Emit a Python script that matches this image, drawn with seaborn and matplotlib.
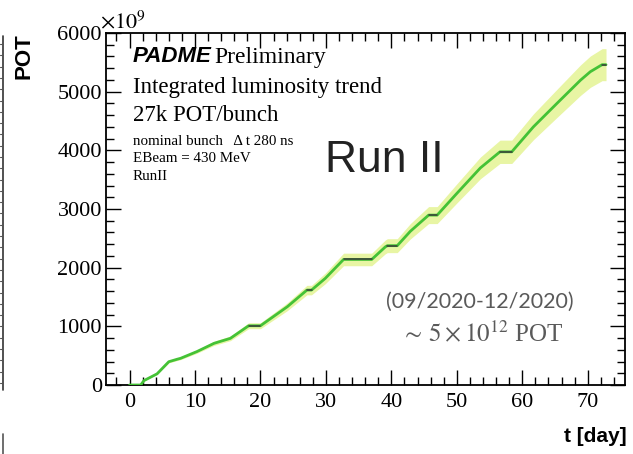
import numpy as np
import pandas as pd
import matplotlib
matplotlib.use("Agg")
import matplotlib.pyplot as plt
from matplotlib.lines import Line2D
from matplotlib.ticker import MultipleLocator
import seaborn as sns

# Integrated protons on target (units of 1e9) versus run time in days
days = [0, 1.7, 2.2, 4.2, 6.0, 7.3, 7.8, 10.3, 12.9, 15.4, 18.2, 20.0, 24.1,
        27.1, 27.8, 29.9, 32.7, 37.0, 39.1, 39.4, 40.9, 42.9, 45.7, 47.0,
        50.0, 53.6, 56.6, 58.4, 61.7, 65.3, 68.9, 70.4, 72.2, 72.8]
pot = [0, 0, 75, 190, 397, 440, 455, 570, 710, 795, 1010, 1010, 1334,
       1618, 1618, 1817, 2140, 2140, 2356, 2375, 2375, 2620, 2896, 2896,
       3265, 3700, 3975, 3975, 4400, 4800, 5196, 5340, 5460, 5460]
rel_err = 0.05

x_ticks = [0, 10, 20, 30, 40, 50, 60, 70]
y_ticks = [0, 1000, 2000, 3000, 4000, 5000, 6000]

df = pd.DataFrame({"t": days, "pot": pot})
df["lo"] = df["pot"] * (1 - rel_err)
df["hi"] = df["pot"] * (1 + rel_err)

sns.set_theme(style="ticks")
plt.rcParams["font.family"] = ["Liberation Serif", "DejaVu Serif"]
plt.rcParams["mathtext.fontset"] = "stix"
plt.rcParams["text.color"] = "black"
plt.rcParams["axes.labelcolor"] = "black"

W, H = 633, 454
fig = plt.figure(figsize=(W / 100, H / 100), dpi=100)
ax = fig.add_axes([106 / W, 1 - 385 / H, (625 - 106) / W, (385 - 33) / H])


def px(x, y):
    return x / W, 1 - y / H


# uncertainty band
ax.fill_between(df["t"], df["lo"], df["hi"], color="#e8f5a4", lw=0, zorder=1)

# accumulated POT curve
sns.lineplot(data=df, x="t", y="pot", color="#44c236", lw=2.0, ax=ax,
             zorder=3, sort=False, estimator=None)

# periods without beam are drawn as dark flat stretches
for i in range(1, len(df) - 1):
    if df["pot"].iloc[i + 1] == df["pot"].iloc[i]:
        ax.plot(df["t"].iloc[i:i + 2], df["pot"].iloc[i:i + 2],
                color="#3a3a3a", lw=1.1, zorder=4)

ax.set_xlim(-3.6, 75.7)
ax.set_ylim(0, 6000)
ax.set_xticks(x_ticks)
ax.set_yticks(y_ticks)
ax.set_xlabel("")
ax.xaxis.set_minor_locator(MultipleLocator(2))
ax.yaxis.set_minor_locator(MultipleLocator(200))
ax.tick_params(which="both", direction="in", top=True, right=True,
               colors="black", labelsize=16, width=1.0)
ax.tick_params(which="major", length=11)
ax.tick_params(which="minor", length=6)
ax.tick_params(axis="x", which="major", pad=6)
ax.tick_params(axis="y", which="major", pad=3)
for lab in ax.get_xticklabels() + ax.get_yticklabels():
    lab.set_fontfamily("Liberation Serif")
for s in ax.spines.values():
    s.set_visible(True)
    s.set_color("black")
    s.set_linewidth(1.3)
ax.set_facecolor("white")
fig.patch.set_facecolor("white")

ax.set_xlabel("t [day]", loc="right", fontsize=15, fontweight="bold",
              family="Liberation Sans")
ax.xaxis.set_label_coords(1.004, -0.118)
ax.set_ylabel("POT", loc="top", fontsize=16, fontweight="bold",
              family="Liberation Sans")
ax.yaxis.set_label_coords(-0.138, 1.0)

ax.text(-0.012, 1.0, r"$\times10^{9}$", transform=ax.transAxes, fontsize=16,
        ha="left", va="bottom")

# experiment label block
fig.text(*px(133, 57), "PADME", fontsize=16, fontweight="bold", style="italic",
         family="Liberation Sans", ha="left", va="center")
fig.text(*px(214, 57), "Preliminary", fontsize=17, ha="left", va="center")
fig.text(*px(133, 88), "Integrated luminosity trend", fontsize=16.5,
         ha="left", va="center")
fig.text(*px(133, 115), "27k POT/bunch", fontsize=16.5, ha="left", va="center")
fig.text(*px(133, 141), "nominal bunch   Δ t 280 ns", fontsize=10.8,
         ha="left", va="center")
fig.text(*px(133, 159), "EBeam = 430 MeV", fontsize=10.8, ha="left", va="center")
fig.text(*px(133, 176), "RunII", fontsize=10.8, ha="left", va="center")

fig.text(*px(384, 160), "Run II", fontsize=32, family="Liberation Sans",
         color="#222222", ha="center", va="center")

fig.text(*px(480, 302), "(09/2020-12/2020)", fontsize=15.5, family="Lato",
         color="#5a5a5a", ha="center", va="center")
fig.text(*px(482, 333), r"$\sim\, 5\times10^{12}$ POT", fontsize=18,
         color="#5a5a5a", ha="center", va="center")

# edge of the neighbouring panel frame
fig.add_artist(Line2D([2.5 / W, 2.5 / W], [1 - 36 / H, 1 - 390 / H],
                      color="#333333", lw=1.2))
for yy in np.arange(44, 386, 11.3):
    fig.add_artist(Line2D([0, 2.5 / W], [1 - yy / H, 1 - yy / H],
                          color="#555555", lw=0.8))
fig.add_artist(Line2D([2.5 / W, 2.5 / W], [1 - 434 / H, 0],
                      color="#555555", lw=1.2))

fig.savefig("out.png", dpi=100, facecolor="white")
